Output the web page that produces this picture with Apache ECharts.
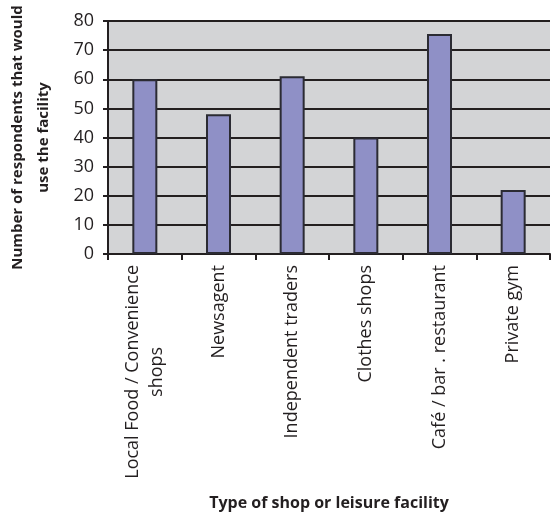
<!DOCTYPE html>
<html>
<head>
<meta charset="utf-8">
<script src="https://cdn.jsdelivr.net/npm/echarts@6/dist/echarts.min.js"></script>
<style>
  html, body { margin: 0; padding: 0; background: #fff; }
  #chart { width: 551px; height: 513px; }
</style>
</head>
<body>
<div id="chart"></div>
<script>
// shop / leisure facility categories
var categories = ['Local Food / Convenience\nshops', 'Newsagent', 'Independent traders', 'Clothes shops', 'Café / bar . restaurant', 'Private gym']
// respondents that would use it
var values = [60, 48, 61, 40, 75.5, 22]
var yTicks = [0, 10, 20, 30, 40, 50, 60, 70, 80]

var chart = echarts.init(document.getElementById('chart'))

var font = 'Open Sans, Noto Sans, sans-serif'

// wrap every line so multi-line labels are centred on each other
function catLabel(v) {
  return v.split('\n').map(function (s) { return '{c|' + s + '}' }).join('\n')
}

var options = {
  animation: false,
  textStyle: { fontFamily: font },
  grid: {
    left: 108,
    right: 1,
    top: 21,
    bottom: 259,
    show: true,
    backgroundColor: '#d3d4d6',
    borderWidth: 0,
    containLabel: false,
    outerBoundsMode: 'none'
  },
  xAxis: {
    type: 'category',
    data: categories,
    name: 'Type of shop or leisure facility',
    nameLocation: 'middle',
    nameGap: 241,
    nameTextStyle: { fontSize: 16, fontWeight: 'bold', color: '#231f20', fontFamily: font },
    axisLine: { lineStyle: { color: '#231f20', width: 2 } },
    axisTick: { show: true, length: 6, lineStyle: { color: '#231f20', width: 2 } },
    axisLabel: {
      rotate: 90,
      interval: 0,
      margin: 11,
      color: '#231f20',
      align: 'right',
      formatter: catLabel,
      rich: {
        c: { fontSize: 18, lineHeight: 24, align: 'center', color: '#231f20', fontFamily: font }
      }
    }
  },
  yAxis: {
    type: 'value',
    min: yTicks[0],
    max: yTicks[yTicks.length - 1],
    interval: 10,
    name: 'Number of respondents that would\nuse the facility',
    nameLocation: 'middle',
    nameRotate: 90,
    nameGap: 51,
    nameTextStyle: { fontSize: 15, fontWeight: 'bold', color: '#231f20', lineHeight: 26, fontFamily: font },
    axisLine: { show: true, lineStyle: { color: '#231f20', width: 2 } },
    axisTick: { show: true, length: 5, lineStyle: { color: '#231f20', width: 2 } },
    axisLabel: { fontSize: 18, color: '#231f20', margin: 14, fontFamily: font },
    splitLine: { show: true, lineStyle: { color: '#231f20', width: 2 } }
  },
  series: [{
    type: 'bar',
    data: values,
    barWidth: 25,
    itemStyle: {
      color: '#8f90c6',
      borderColor: '#2b2b33',
      borderWidth: 2
    }
  }]
}
chart.setOption(options)
</script>
</body>
</html>
